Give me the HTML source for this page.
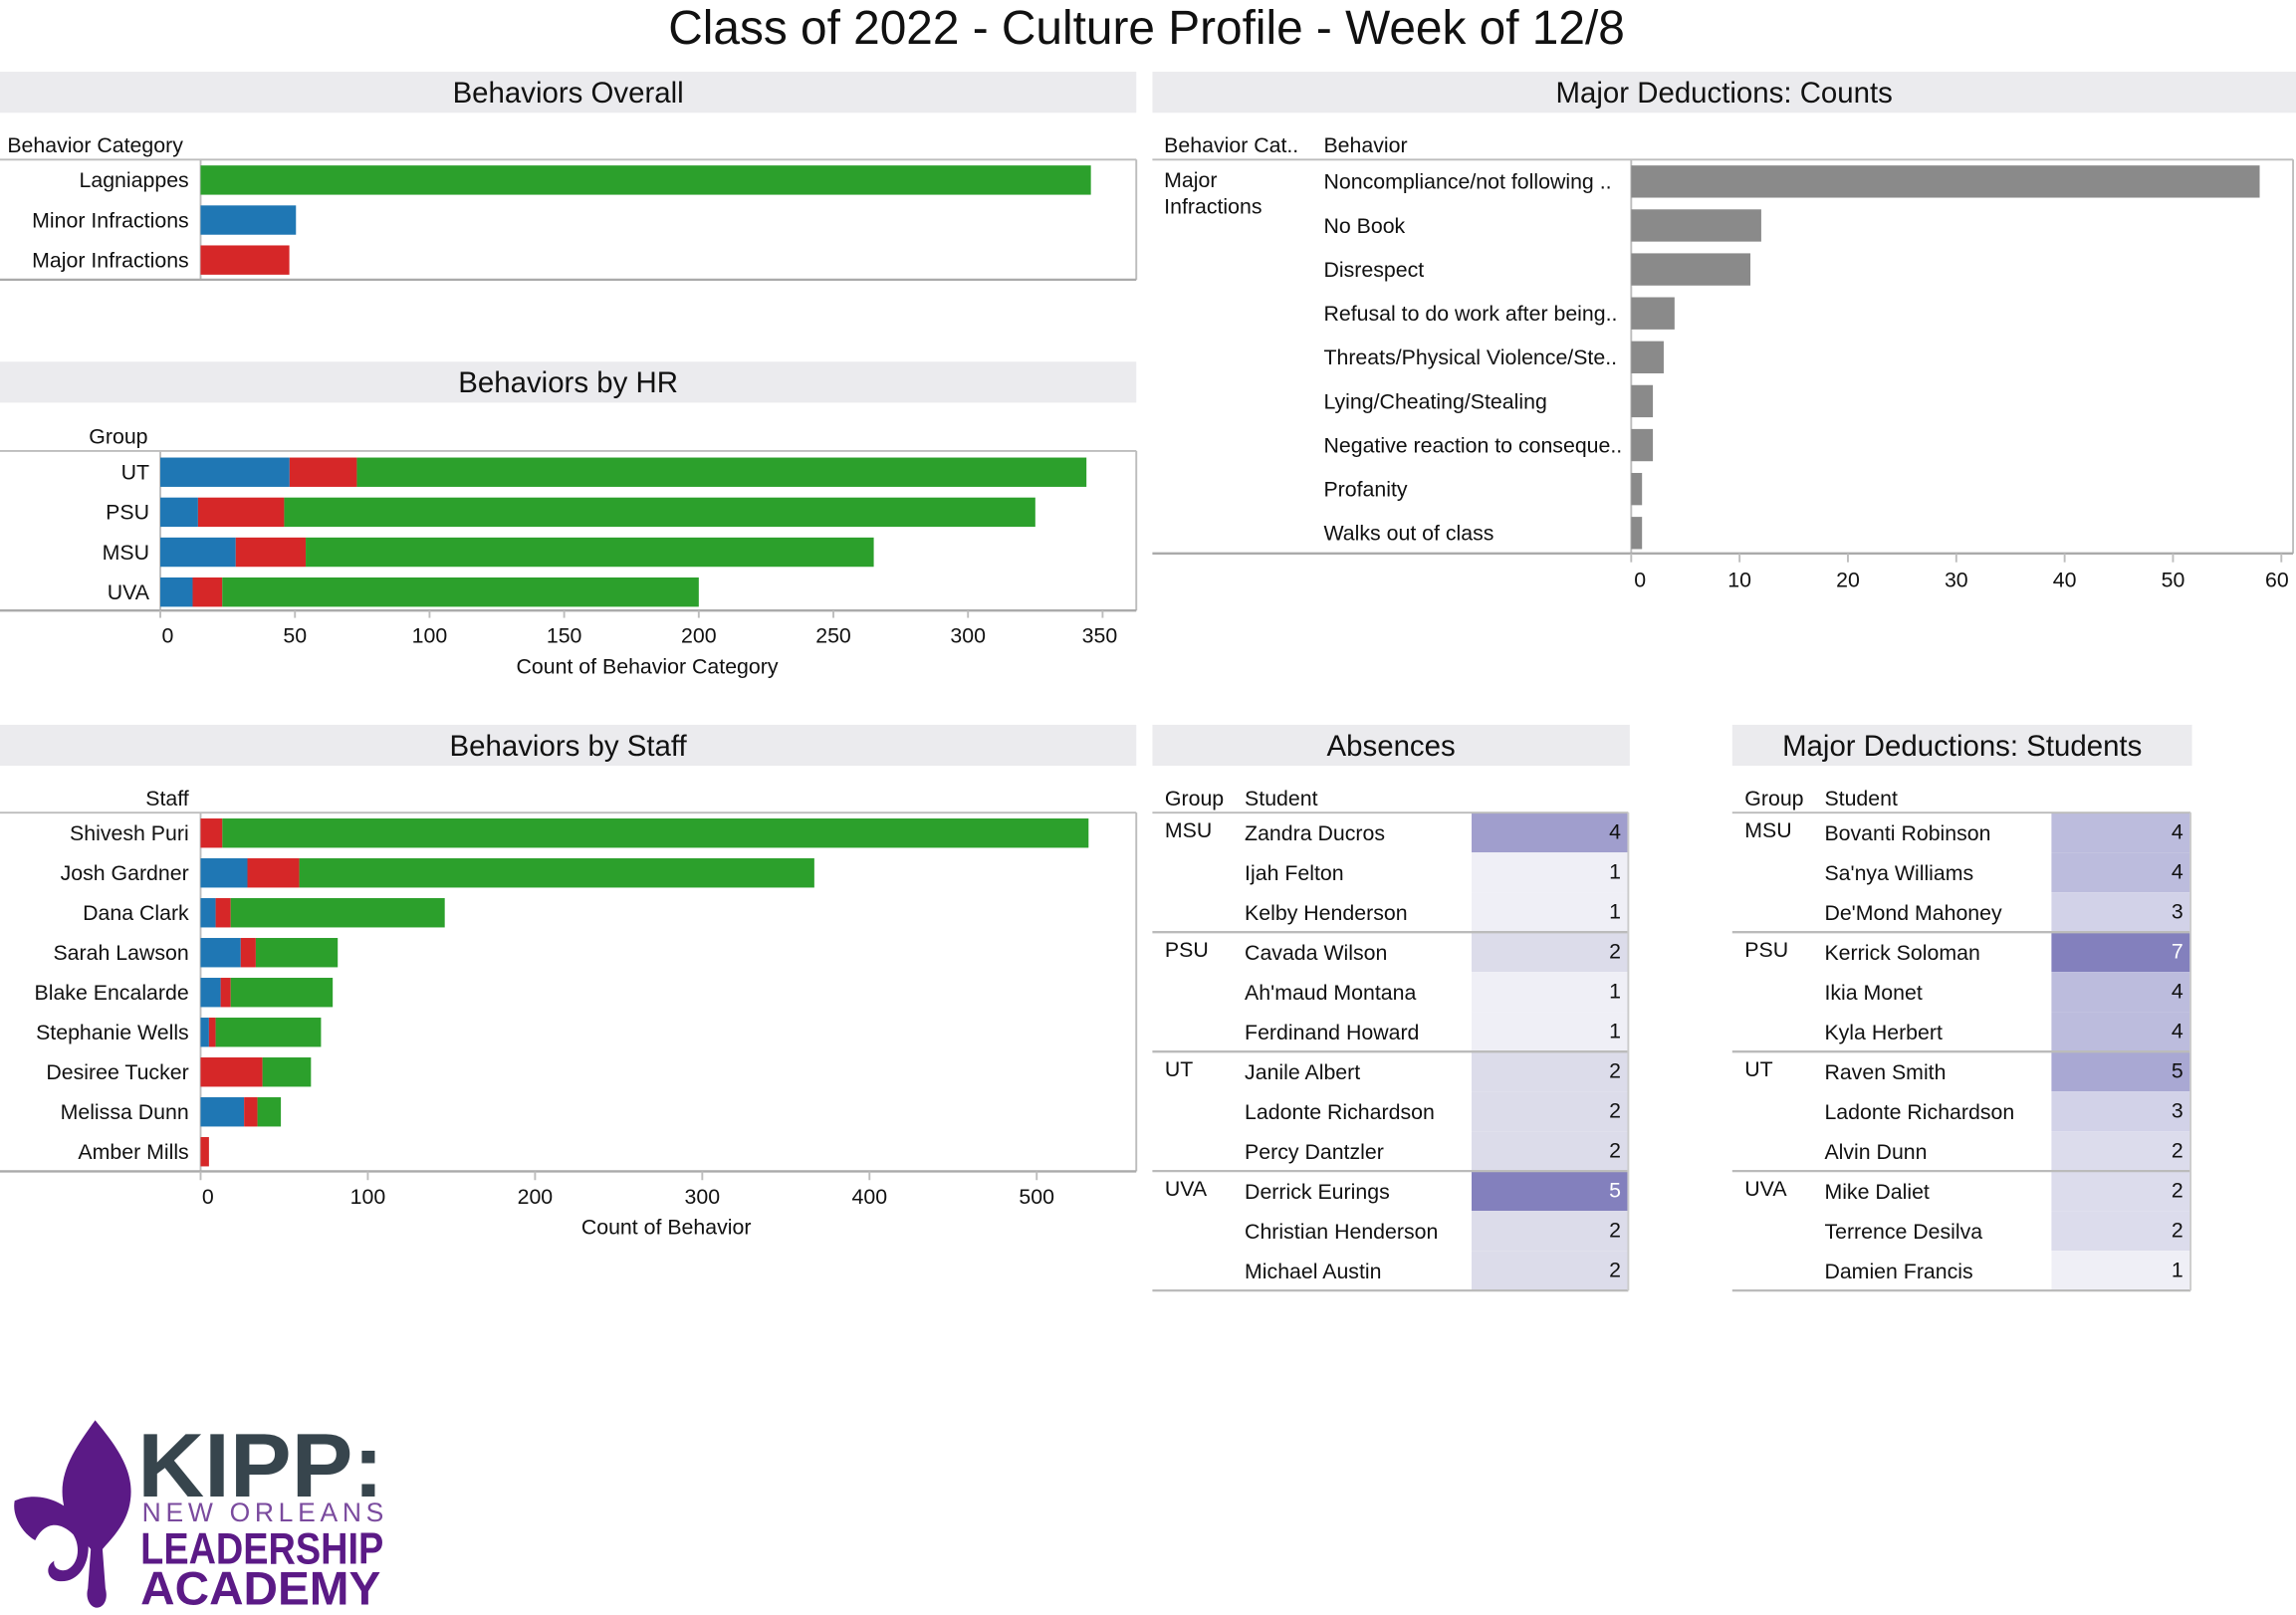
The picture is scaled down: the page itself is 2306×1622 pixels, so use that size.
<!DOCTYPE html>
<html><head><meta charset="utf-8">
<style>
html,body{margin:0;padding:0;background:#fff;}
svg{display:block;font-family:"Liberation Sans",Arial,sans-serif;}
</style></head>
<body>
<svg id="root" width="2306" height="1622" viewBox="0 0 1568 1103" preserveAspectRatio="none" xmlns="http://www.w3.org/2000/svg">
<text x="783" y="30" text-anchor="middle" font-size="32.5" fill="#111">Class of 2022 - Culture Profile - Week of 12/8</text>
<g>
 <path fill="#5b1a86" d="M65,970 C52,988 40,1005 43,1025 C45,1040 55,1050 62,1058 L60,1085 C58,1092 62,1098 66,1098 C71,1098 74,1092 72,1085 L70,1058 C77,1050 87,1040 89,1025 C92,1005 80,988 65,970 Z M10,1025 C8,1035 15,1047 24,1052 C30,1040 40,1038 50,1048 C55,1056 54,1068 46,1072 C40,1074 36,1070 37,1066 C30,1070 32,1080 42,1080 C55,1080 62,1066 60,1052 C56,1030 30,1016 10,1025 Z"/>
 <text x="94" y="1022" font-size="62" font-weight="bold" fill="#37454d" textLength="168" lengthAdjust="spacingAndGlyphs">KIPP:</text>
 <text x="97" y="1039" font-size="18" fill="#7a4a9e" textLength="165" lengthAdjust="spacing">NEW ORLEANS</text>
 <text x="96" y="1068" font-size="30" font-weight="bold" fill="#5b1a86" textLength="166" lengthAdjust="spacingAndGlyphs">LEADERSHIP</text>
 <text x="96" y="1096" font-size="32" font-weight="bold" fill="#5b1a86" textLength="164" lengthAdjust="spacingAndGlyphs">ACADEMY</text>
</g>
</svg>
<script>
// ---- data ----
const overallCats = ["Lagniappes","Minor Infractions","Major Infractions"];
const overallVals = [943,101,94];
const hrGroups = ["UT","PSU","MSU","UVA"];
const hrMinor = [48,14,28,12];
const hrMajor = [25,32,26,11];
const hrLag = [271,279,211,177];
const hrTicks = [0,50,100,150,200,250,300,350];
const dedBehaviors = ["Noncompliance/not following ..","No Book","Disrespect","Refusal to do work after being..","Threats/Physical Violence/Ste..","Lying/Cheating/Stealing","Negative reaction to conseque..","Profanity","Walks out of class"];
const dedCounts = [58,12,11,4,3,2,2,1,1];
const dedTicks = [0,10,20,30,40,50,60];
const staffNames = ["Shivesh Puri","Josh Gardner","Dana Clark","Sarah Lawson","Blake Encalarde","Stephanie Wells","Desiree Tucker","Melissa Dunn","Amber Mills"];
const staffMinor = [0,28,9,24,12,5,0,26,0];
const staffMajor = [13,31,9,9,6,4,37,8,5];
const staffLag = [518,308,128,49,61,63,29,14,0];
const staffTicks = [0,100,200,300,400,500];
const absGroups = ["MSU","PSU","UT","UVA"];
const absStudents = ["Zandra Ducros","Ijah Felton","Kelby Henderson","Cavada Wilson","Ah'maud Montana","Ferdinand Howard","Janile Albert","Ladonte Richardson","Percy Dantzler","Derrick Eurings","Christian Henderson","Michael Austin"];
const absVals = [4,1,1,2,1,1,2,2,2,5,2,2];
const dedStudents = ["Bovanti Robinson","Sa'nya Williams","De'Mond Mahoney","Kerrick Soloman","Ikia Monet","Kyla Herbert","Raven Smith","Ladonte Richardson","Alvin Dunn","Mike Daliet","Terrence Desilva","Damien Francis"];
const dedStudentVals = [4,4,3,7,4,4,5,3,2,2,2,1];

const NS="http://www.w3.org/2000/svg";
const root=document.getElementById('root');
const C={blue:"#1f77b4",red:"#d62728",green:"#2ca02c",gray:"#8a8a8a",line:"#bdbdbd",hdr:"#ebebee",txt:"#111"};
function mk(tag,attrs,parent){const e=document.createElementNS(NS,tag);for(const k in attrs)e.setAttribute(k,attrs[k]);(parent||root).appendChild(e);return e;}
function txt(x,y,s,size,anchor,parent,fill){const t=mk('text',{x:x,y:y,'font-size':size,'text-anchor':anchor||'start',fill:fill||C.txt},parent);t.textContent=s;return t;}
function header(x,w,y,label,name){
  const g=mk('g',{});
  
  
  const r=mk('rect',{x:x,y:y,width:w,height:28,fill:C.hdr},g);
  
  
  const t=txt(x+w/2,y+21,label,20,'middle',g);
  
  
}
function lin(x1,y1,x2,y2,parent,col,w){return mk('line',{x1:x1,y1:y1,x2:x2,y2:y2,stroke:col||C.line,'stroke-width':w||1.3},parent);}
function bar(x,y,w,h,fill,parent,name){const r=mk('rect',{x:x,y:y,width:Math.max(0,w),height:h,fill:fill},parent);
  
  
  return r;}

// ---- Behaviors Overall ----
header(0,776,49,"Behaviors Overall","behaviors-overall-header");
{const g=mk('g',{});
 
 
 const x0=137, sx=v=>x0+v*(745-137)/943;
 txt(5,104,"Behavior Category",14.5,'start',g);
 lin(0,109,776,109,g);lin(137,109,137,191,g);lin(776,109,776,191,g);lin(0,191,776,191,g,"#aaa",1.6);
 overallCats.forEach((c,i)=>{const cy=123+i*27.3;
  const t=txt(129,cy+5,c,14.5,'end',g);
  
  
  bar(x0,cy-10,sx(overallVals[i])-x0,20,[C.green,C.blue,C.red][i],g,'overall-bar-'+i);});
}

// ---- Behaviors by HR ----
header(0,776,247,"Behaviors by HR","behaviors-by-hr-header");
{const g=mk('g',{});
 
 
 const x0=109.5, sx=v=>x0+v*(753-109.5)/350;
 txt(101,303,"Group",14.5,'end',g);
 lin(0,308,776,308,g);lin(109.5,308,109.5,417,g);lin(776,308,776,417,g);lin(0,417,776,417,g,"#aaa",1.6);
 hrGroups.forEach((gr,i)=>{const cy=322.5+i*27.3;
  const t=txt(102,cy+5,gr,14.5,'end',g);
  
  
  let a=0;
  [[hrMinor[i],C.blue],[hrMajor[i],C.red],[hrLag[i],C.green]].forEach(([v,c],k)=>{bar(sx(a),cy-10,sx(a+v)-sx(a),20,c,g,'hr-bar-'+gr+'-'+k);a+=v;});});
 hrTicks.forEach((t,i)=>{lin(sx(t),417,sx(t),422,g);const l=txt(sx(t)+(i===0?5:(i===7?-2:0)),439,String(t),14.5,'middle',g);
  
  });
 const at=txt(442,460,"Count of Behavior Category",14.5,'middle',g);
 
 
}

// ---- Major Deductions: Counts ----
header(787,781,49,"Major Deductions: Counts","major-deductions-counts-header");
{const g=mk('g',{});
 
 
 const x0=1114, sx=v=>x0+v*(1558-1114)/60;
 txt(795,104,"Behavior Cat..",14.5,'start',g);txt(904,104,"Behavior",14.5,'start',g);
 lin(787,109,1566,109,g);lin(1114,109,1114,378,g);lin(1566,109,1566,378,g);lin(787,378,1566,378,g,"#aaa",1.6);
 txt(795,128,"Major",14.5,'start',g);txt(795,146,"Infractions",14.5,'start',g);
 dedBehaviors.forEach((b,i)=>{const cy=124+i*30;
  const t=txt(904,cy+5,b,14.5,'start',g);
  
  
  bar(x0,cy-11,sx(dedCounts[i])-x0,22,C.gray,g,'deduction-bar-'+i);});
 dedTicks.forEach((t,i)=>{lin(sx(t),378,sx(t),384,g);const l=txt(sx(t)+(i===0?6:(i===6?-3:0)),401,String(t),14.5,'middle',g);
  
  });
}

// ---- Behaviors by Staff ----
header(0,776,495,"Behaviors by Staff","behaviors-by-staff-header");
{const g=mk('g',{});
 
 
 const x0=137, sx=v=>x0+v*(708-137)/500;
 txt(129,550,"Staff",14.5,'end',g);
 lin(0,555,776,555,g);lin(137,555,137,800,g);lin(776,555,776,800,g);lin(0,800,776,800,g,"#aaa",1.6);
 staffNames.forEach((n,i)=>{const cy=569+i*27.2;
  const t=txt(129,cy+5,n,14.5,'end',g);
  
  
  let a=0;
  [[staffMinor[i],C.blue],[staffMajor[i],C.red],[staffLag[i],C.green]].forEach(([v,c],k)=>{if(v>0)bar(sx(a),cy-10,sx(a+v)-sx(a),20,c,g,'staff-bar-'+i+'-'+k);a+=v;});});
 staffTicks.forEach((t,i)=>{lin(sx(t),800,sx(t),806,g);const l=txt(sx(t)+(i===0?5:0),822,String(t),14.5,'middle',g);
  
  });
 const at=txt(455,843,"Count of Behavior",14.5,'middle',g);
 
 
}

// ---- tables ----
function heat(v){return {1:"#efeff6",2:"#dcdcec",3:"#d2d2e8",4:"#bcbcdd",5:"#a9a8d3",7:"#8380bd"}[v]||"#eee";}
function table(x0,xc,xs,xv1,xv2,students,vals,name,colorFn){
  const g=mk('g',{});
  
  
  txt(xc,550,"Group",14.5,'start',g);txt(xs,550,"Student",14.5,'start',g);
  students.forEach((s,i)=>{const y=555+i*27.2;
   const r=mk('rect',{x:xv1,y:y,width:xv2-xv1,height:27.2,fill:colorFn(vals[i])},g);
   
   
   const dark=vals[i]>=5&&colorFn(vals[i])==="#8380bd";
   txt(xv2-5,y+18,String(vals[i]),14.5,'end',g,dark?"#fff":C.txt);
   const t=txt(xs,y+19,s,14.5,'start',g);
   
   
   if(i%3===0){txt(xc,y+17,absGroups[i/3],14.5,'start',g);}
  });
  for(let k=0;k<=4;k++){lin(x0,555+k*81.6,xv2,555+k*81.6,g,"#bbb",k===0?1.3:1.6);}
  lin(xv2,555,xv2,881.4,g,"#ccc",1.3);
}
header(787,326,495,"Absences","absences-header");
table(787,795.5,850,1005,1112,absStudents,absVals,'absences-table',v=>({1:"#efeff6",2:"#dcdcea",4:"#a09ecd",5:"#8380bd"}[v]||"#ddd"));
header(1183,314,495,"Major Deductions: Students","major-deductions-students-header");
table(1183,1191.5,1246,1401,1496,dedStudents,dedStudentVals,'deduction-students-table',heat);
</script>
</body></html>
